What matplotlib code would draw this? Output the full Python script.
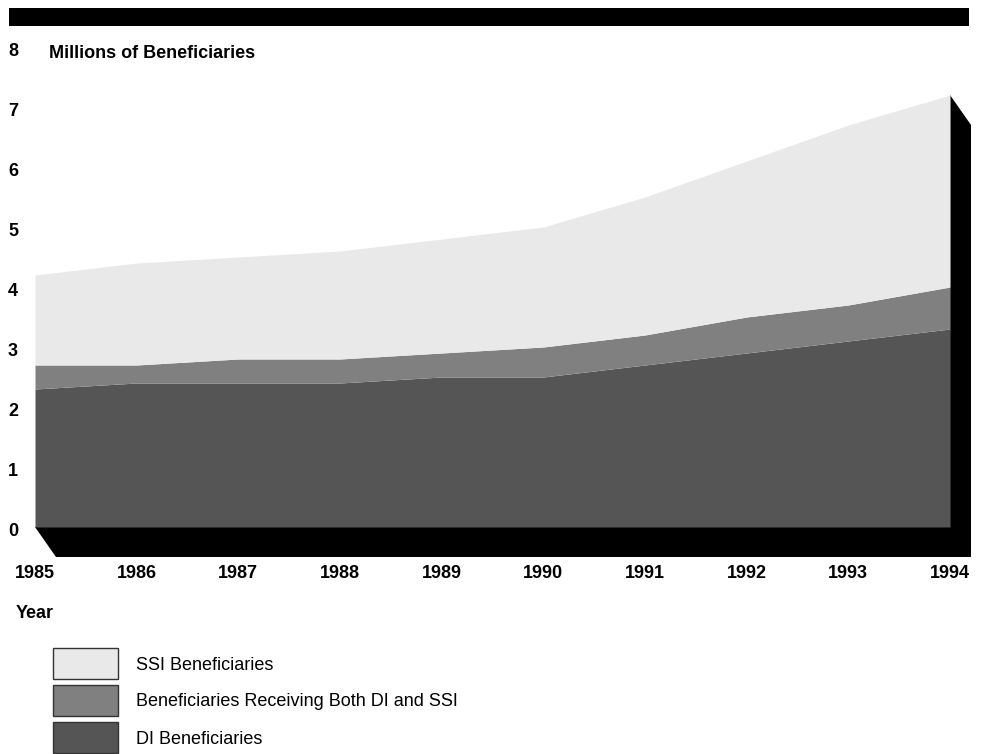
import numpy as np
import matplotlib
matplotlib.use("Agg")
import matplotlib.pyplot as plt
from matplotlib.patches import Rectangle, Polygon
import matplotlib.transforms as mtransforms

# Data (millions of beneficiaries)
years = [1985, 1986, 1987, 1988, 1989, 1990, 1991, 1992, 1993, 1994]
di_only = [2.3, 2.4, 2.4, 2.4, 2.5, 2.5, 2.7, 2.9, 3.1, 3.3]
both = [0.4, 0.3, 0.4, 0.4, 0.4, 0.5, 0.5, 0.6, 0.6, 0.7]
ssi_only = [1.5, 1.7, 1.7, 1.8, 1.9, 2.0, 2.3, 2.6, 3.0, 3.2]
y_ticks = [0, 1, 2, 3, 4, 5, 6, 7, 8]
series_labels = ["SSI Beneficiaries",
                 "Beneficiaries Receiving Both DI and SSI",
                 "DI Beneficiaries"]
colors = ["#e9e9e9", "#808080", "#555555"]

plt.rcParams['font.family'] = ['Liberation Sans', 'DejaVu Sans']

W, H = 987, 754
fig = plt.figure(figsize=(W / 100, H / 100), dpi=100)

def px_box(x0, y0, x1, y1):
    # pixel box (top-down) -> figure fraction [left, bottom, width, height]
    return [x0 / W, 1 - y1 / H, (x1 - x0) / W, (y1 - y0) / H]

ax = fig.add_axes(px_box(35, 47, 971, 557))
ax.set_xlim(1985, 1985 + 936 / 101.67)
ax.set_ylim(-0.5, 8.0)
ax.axis('off')

x = np.array(years, dtype=float)
di = np.array(di_only)
mid = di + np.array(both)
top = mid + np.array(ssi_only)

# 3D shadow (extrusion)
dx, dy = 21 / 101.67, 0.5
shadow = [(x[0], 0), (x[0] + dx, -dy), (x[-1] + dx, -dy),
          (x[-1] + dx, top[-1] - dy), (x[-1], top[-1]), (x[-1], 0)]
ax.add_patch(Polygon(shadow, closed=True, facecolor='black', edgecolor='none', zorder=1))

ax.fill_between(x, 0, di, color=colors[2], lw=0, zorder=2)
ax.fill_between(x, di, mid, color=colors[1], lw=0, zorder=2)
ax.fill_between(x, mid, top, color=colors[0], lw=0, zorder=2)

# y labels at the far left (sit a few px below their gridline value)
trans_y = mtransforms.blended_transform_factory(fig.transFigure, ax.transData)
trans_y = mtransforms.offset_copy(trans_y, fig=fig, y=-5, units='dots')
for v in y_ticks:
    ax.text(8 / W, v, str(v), transform=trans_y, ha='left', va='center',
            fontsize=13, fontweight='bold', clip_on=False)

# year labels
trans_x = mtransforms.blended_transform_factory(ax.transData, fig.transFigure)
for yr in years:
    ax.text(yr, 1 - 574 / H, str(yr), transform=trans_x, ha='center', va='center',
            fontsize=13, fontweight='bold', clip_on=False)

fig.text(49 / W, 1 - 53 / H, "Millions of Beneficiaries", ha='left', va='center',
         fontsize=13, fontweight='bold')
fig.text(16 / W, 1 - 613 / H, "Year", ha='left', va='center',
         fontsize=13, fontweight='bold')

# top black bar
fig.patches.append(Rectangle((9 / W, 1 - 26 / H), 960 / W, 18 / H,
                             transform=fig.transFigure, facecolor='black', edgecolor='none'))

# legend boxes
box_tops = [648, 685, 722]
for lab, col, bt in zip(series_labels, colors, box_tops):
    fig.patches.append(Rectangle((53 / W, 1 - (bt + 31) / H), 65 / W, 31 / H,
                                 transform=fig.transFigure, facecolor=col,
                                 edgecolor='#333333', linewidth=1.0))
    fig.text(136 / W, 1 - (bt + 17) / H, lab, ha='left', va='center', fontsize=13)

fig.savefig("out.png", dpi=100)
